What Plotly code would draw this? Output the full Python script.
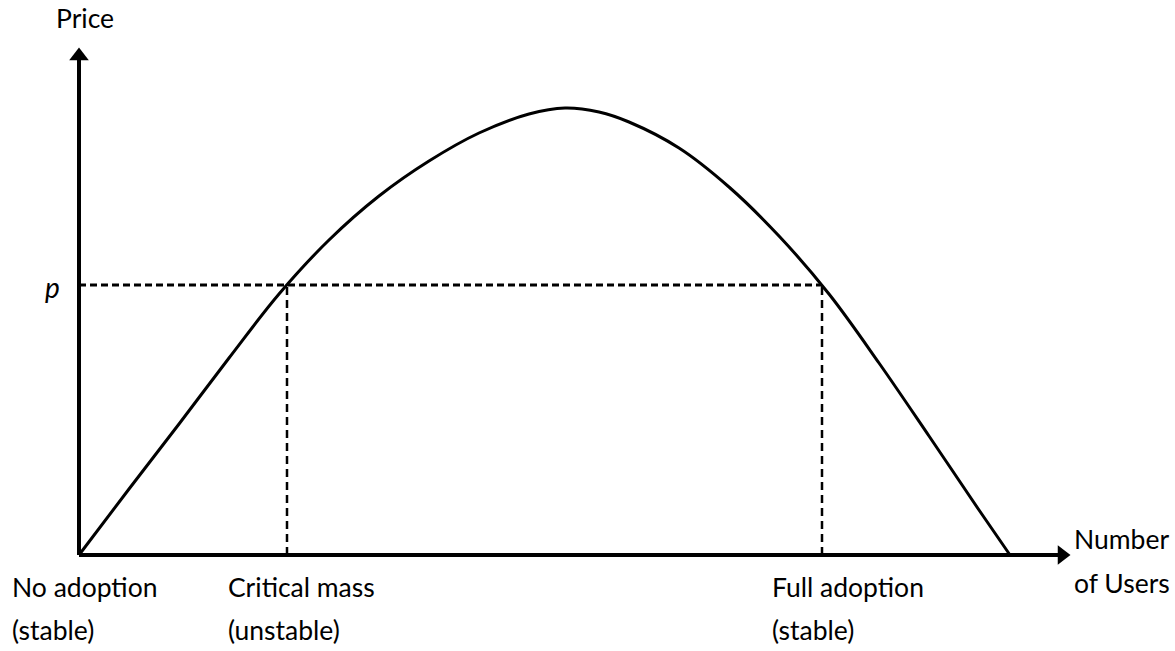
import plotly.graph_objects as go

# Curve (x = number of users, y = price), arbitrary units
curve_x = [0, 50, 100, 150, 200, 250, 300, 350, 400, 450, 486, 520, 550, 600, 650, 700, 750, 800, 850, 900, 931]
curve_y = [0, 66, 131, 197, 261, 315, 359, 394, 422, 441, 447, 443, 433, 407, 368, 319, 261, 192, 119, 45, 0]

p_level = 270
critical_x = 208
full_x = 743
x_axis_end = 991
y_axis_end = 507

y_title = "Price"
x_title = ["Number", "of Users"]
p_label = "p"
label_lines_1 = ["No adoption", "Critical mass", "Full adoption"]
label_lines_2 = ["(stable)", "(unstable)", "(stable)"]
label_x = [-69, 147, 691]

FONT = "Lato, Carlito, Calibri, sans-serif"
BLACK = "#000000"
FS = 26.5

fig = go.Figure()

# axes lines
fig.add_trace(go.Scatter(x=[0, x_axis_end - 12], y=[0, 0], mode="lines",
                         line=dict(color=BLACK, width=4), hoverinfo="skip"))
fig.add_trace(go.Scatter(x=[0, 0], y=[0, y_axis_end - 12], mode="lines",
                         line=dict(color=BLACK, width=4), hoverinfo="skip"))
# arrow heads
fig.add_trace(go.Scatter(x=[x_axis_end - 8], y=[0], mode="markers",
                         marker=dict(symbol="triangle-right", size=17, color=BLACK, line=dict(width=0)),
                         hoverinfo="skip"))
fig.add_trace(go.Scatter(x=[0], y=[y_axis_end - 8], mode="markers",
                         marker=dict(symbol="triangle-up", size=17, color=BLACK, line=dict(width=0)),
                         hoverinfo="skip"))

# dashed guides
fig.add_trace(go.Scatter(x=[0, full_x], y=[p_level, p_level], mode="lines",
                         line=dict(color=BLACK, width=3, dash="7px,4px"), hoverinfo="skip"))
for xv in (critical_x, full_x):
    fig.add_trace(go.Scatter(x=[xv, xv], y=[0, p_level], mode="lines",
                             line=dict(color=BLACK, width=2.5, dash="8px,5px"), hoverinfo="skip"))

# curve
fig.add_trace(go.Scatter(x=curve_x, y=curve_y, mode="lines",
                         line=dict(color=BLACK, width=3, shape="spline", smoothing=1.0),
                         hoverinfo="skip"))

font = dict(family=FONT, size=FS, color=BLACK)
annotations = [
    dict(x=-25, y=537.5, text=y_title, showarrow=False, xanchor="left", yanchor="middle", font=font),
    dict(x=993, y=16.5, text=x_title[0], showarrow=False, xanchor="left", yanchor="middle", font=font),
    dict(x=993, y=-27.5, text=x_title[1], showarrow=False, xanchor="left", yanchor="middle", font=font),
    dict(x=-36, y=p_level - 2, text="<i>" + p_label + "</i>", showarrow=False,
         xanchor="left", yanchor="middle", font=dict(family=FONT, size=28, color=BLACK)),
]
for xv, l1, l2 in zip(label_x, label_lines_1, label_lines_2):
    annotations.append(dict(x=xv, y=-31.5, text=l1, showarrow=False, xanchor="left", yanchor="middle", font=font))
    annotations.append(dict(x=xv, y=-74.5, text=l2, showarrow=False, xanchor="left", yanchor="middle", font=font))

fig.update_layout(
    width=1175, height=651,
    margin=dict(l=0, r=0, t=0, b=0),
    paper_bgcolor="white", plot_bgcolor="white",
    showlegend=False,
    xaxis=dict(range=[-79, 1096], visible=False, fixedrange=True),
    yaxis=dict(range=[-96, 555], visible=False, fixedrange=True),
    annotations=annotations,
)

fig.write_html(
    "out.html",
    config={"displayModeBar": False},
    post_script="document.body.style.margin='0';document.body.style.overflow='hidden';",
)
